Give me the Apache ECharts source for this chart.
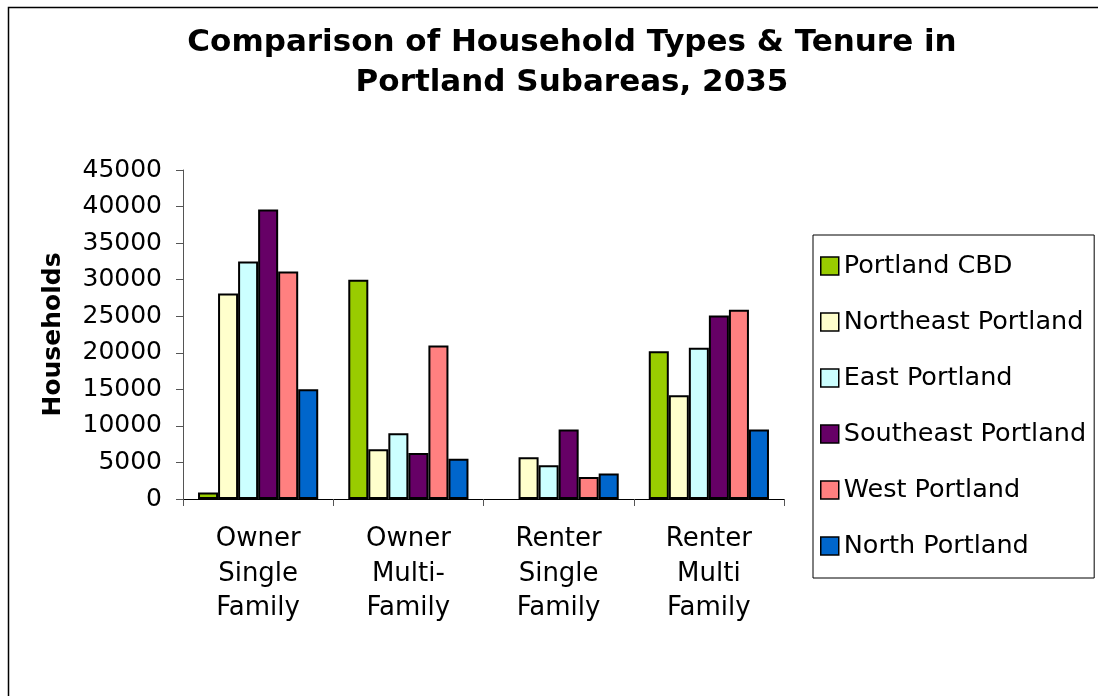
<!DOCTYPE html>
<html>
<head>
    <meta charset="utf-8">
    <script src="https://cdn.jsdelivr.net/npm/echarts@6/dist/echarts.min.js"></script>
    <style type="text/css">
        html, body { width: 100%; height: 100%; margin: 0; background: #fff; overflow: hidden; }
        #chart { width: 1098px; height: 696px; }
    </style>
</head>
<body>
<div id="chart"></div>
<script type="text/javascript">
    // 数据
    var categories = ['Owner\nSingle\nFamily', 'Owner\nMulti-\nFamily', 'Renter\nSingle\nFamily', 'Renter\nMulti\nFamily'];
    var areaNames = ['Portland CBD', 'Northeast Portland', 'East Portland', 'Southeast Portland', 'West Portland', 'North Portland'];
    var areaColors = ['#99CC00', '#FFFFCC', '#CCFFFF', '#660066', '#FF8080', '#0066CC'];
    var portlandCBD = [900, 30000, null, 20200];
    var northeastPortland = [28100, 6800, 5700, 14200];
    var eastPortland = [32500, 9000, 4600, 20700];
    var southeastPortland = [39600, 6300, 9500, 25100];
    var westPortland = [31100, 21000, 3000, 25900];
    var northPortland = [15000, 5500, 3500, 9500];
    var seriesValues = [portlandCBD, northeastPortland, eastPortland, southeastPortland, westPortland, northPortland];

    var font = 'DejaVu Sans';

    var series = areaNames.map(function (name, i) {
        return {
            name: name,
            type: 'bar',
            data: seriesValues[i],
            barGap: '0%',
            barCategoryGap: '20%',
            itemStyle: {
                color: areaColors[i],
                borderColor: '#000',
                borderWidth: 2
            }
        };
    });

    var option = {
        backgroundColor: '#fff',
        animation: false,
        textStyle: { fontFamily: font },
        title: {
            text: 'Comparison of Household Types & Tenure in\nPortland Subareas, 2035',
            left: 567,
            top: 18,
            textAlign: 'center',
            textStyle: {
                fontFamily: font,
                fontSize: 31,
                fontWeight: 'bold',
                lineHeight: 40,
                color: '#000'
            }
        },
        legend: {
            orient: 'vertical',
            left: 813,
            top: 235,
            padding: [18, 8, 19, 7],
            borderColor: '#000',
            borderWidth: 1,
            itemWidth: 18,
            itemHeight: 18,
            itemGap: 30,
            icon: 'rect',
            data: areaNames,
            itemStyle: { borderColor: '#000', borderWidth: 1.5 },
            textStyle: { fontFamily: font, fontSize: 25.5, lineHeight: 26, color: '#000' }
        },
        grid: {
            left: 183,
            right: 314,
            top: 170,
            bottom: 197,
            containLabel: false
        },
        xAxis: {
            type: 'category',
            data: categories,
            axisLine: { lineStyle: { color: '#000', width: 1 } },
            axisTick: { show: true, length: 7, lineStyle: { color: '#555' } },
            axisLabel: {
                margin: 23,
                fontFamily: font,
                fontSize: 26,
                lineHeight: 34.5,
                color: '#000',
                interval: 0
            }
        },
        yAxis: {
            type: 'value',
            min: 0,
            max: 45000,
            interval: 5000,
            name: 'Households',
            nameLocation: 'middle',
            nameGap: 117,
            nameTextStyle: { fontFamily: font, fontSize: 25, fontWeight: 'bold', color: '#000' },
            axisLine: { show: true, lineStyle: { color: '#555', width: 1 } },
            axisTick: { show: true, length: 7, lineStyle: { color: '#555' } },
            splitLine: { show: false },
            axisLabel: {
                margin: 21,
                fontFamily: font,
                fontSize: 25,
                color: '#000',
                formatter: function (v) { return String(v); }
            }
        },
        graphic: [{
            type: 'polyline',
            shape: { points: [[8.5, 720], [8.5, 7.5], [1098, 7.5]] },
            style: { fill: 'none', stroke: '#000', lineWidth: 1.5 },
            silent: true
        }],
        series: series
    };

    try {
        var myChart = echarts.init(document.getElementById('chart'));
        myChart.setOption(option);
    } catch (e) {
        console.log('chart error: ' + e);
    }
</script>
</body>
</html>
